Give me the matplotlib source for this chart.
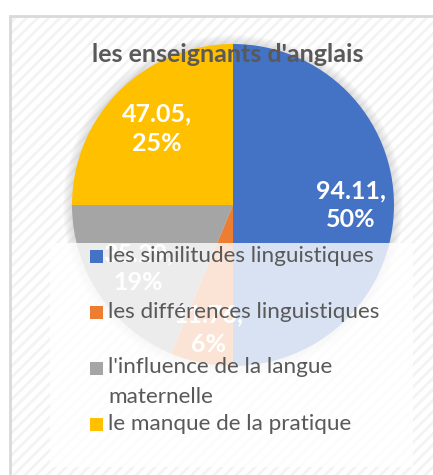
import matplotlib
matplotlib.use("Agg")
import numpy as np
import matplotlib.pyplot as plt
from matplotlib.patches import Rectangle, Circle

# ---- data ----
categories = ["les similitudes linguistiques",
              "les différences linguistiques",
              "l'influence de la langue\nmaternelle",
              "le manque de la pratique"]
values = [94.11, 11.76, 35.29, 47.05]
colors = ["#4472C4", "#ED7D31", "#A5A5A5", "#FFC000"]
title = "les enseignants d'anglais"

W, H = 433, 475
plt.rcParams['hatch.linewidth'] = 2.0
fig = plt.figure(figsize=(W / 100, H / 100), dpi=100)
ax = fig.add_axes([0, 0, 1, 1])

def Y(py):
    return H - py

# chart area background with diagonal stripes
ax.add_patch(Rectangle((10, 0), W, Y(16), facecolor="white", edgecolor="#f3f3f3",
                       hatch="///", linewidth=0, zorder=0))
ax.add_patch(Rectangle((10, -5), W + 10, Y(16) + 5, facecolor="none",
                       edgecolor="#d9d9d9", linewidth=2, zorder=0.5))

cx, cy, R = 233, Y(205), 161

# soft glow around pie
for i in range(9, 0, -1):
    ax.add_patch(Circle((cx, cy), R + i, facecolor="#909090", edgecolor="none",
                        alpha=0.03, zorder=0.8))

total = sum(values)

def fmt(pct):
    return f"{pct * total / 100:.2f},\n{pct:.0f}%"

wedges, texts, autotexts = ax.pie(
    values, colors=colors, startangle=90, counterclock=False,
    center=(cx, cy), radius=R, autopct=fmt, pctdistance=0.72,
    wedgeprops=dict(linewidth=0),
    textprops=dict(color="white", fontsize=18, fontweight="bold",
                   family="Lato", linespacing=1.3))
# label distance (fraction of radius) per slice, as placed in the reference
label_dist = [0.73, 0.79, 0.71, 0.67]
for w, t, d in zip(wedges, autotexts, label_dist):
    ang = np.deg2rad((w.theta1 + w.theta2) / 2)
    t.set_position((cx + d * R * np.cos(ang), cy + d * R * np.sin(ang)))
    t.set_ha("center")
    t.set_va("center")

ax.set_xlim(0, W)
ax.set_ylim(0, H)
ax.set_aspect("equal")
ax.axis("off")

# title
ax.text(228, Y(55), title, ha="center", va="center", fontsize=18,
        fontweight="bold", color="#595959", family="Lato", zorder=6)

# legend (semi-transparent box)
ax.add_patch(Rectangle((50, Y(467)), 363, 467 - 243, facecolor="white",
                       edgecolor="none", alpha=0.8, zorder=4))
row_y = [256, 312, 368, 424]
for cat, col, py in zip(categories, colors, row_y):
    ax.add_patch(Rectangle((89.5, Y(py) - 6.5), 13, 13, facecolor=col,
                           edgecolor="none", zorder=5))
    two = "\n" in cat
    ax.text(108, Y((py + py + 28) / 2) if two else Y(py), cat, ha="left",
            va="center", fontsize=16.2, color="#595959", family="Lato",
            zorder=6, linespacing=1.6)

fig.savefig("out.png", dpi=100)
